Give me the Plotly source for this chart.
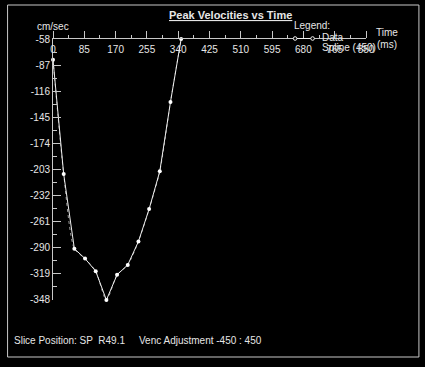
import plotly.graph_objects as go

# Data
time_ms = [0, 29, 58, 87, 116, 145, 174, 203, 232, 261, 290, 319, 348]
velocity = [-81, -208, -291, -302, -316, -348, -320, -309, -283, -247, -205, -128, -58]
x_ticks = [0, 85, 170, 255, 340, 425, 510, 595, 680, 765, 850]
y_ticks = [-58, -87, -116, -145, -174, -203, -232, -261, -290, -319, -348]

FONT = "Arial, 'Liberation Sans', sans-serif"
AX = "#c8c8c8"
TXT = "#e6e6e6"

W, H = 425, 367
L, R, T, B = 52.5, 59, 39, 67
pw, ph = W - L - R, H - T - B

def px(x):
    return (x - L) / pw

def py(y):
    return (H - B - y) / ph

fig = go.Figure()
fig.add_trace(go.Scatter(x=time_ms, y=velocity, mode="lines", name="Spline (450)",
                         line=dict(shape="spline", smoothing=0.7, color="#9a9a9a", width=1, dash="dot"),
                         cliponaxis=False, hoverinfo="skip"))
fig.add_trace(go.Scatter(x=time_ms, y=velocity, mode="lines+markers", name="Data",
                         line=dict(color="#f0f0f0", width=1),
                         marker=dict(size=4, color="#ffffff"),
                         cliponaxis=False))

fig.update_layout(
    width=W, height=H, autosize=False,
    margin=dict(l=L, r=R, t=T, b=B, pad=0),
    paper_bgcolor="#000000", plot_bgcolor="#000000",
    showlegend=False,
    font=dict(family=FONT, size=10, color=TXT),
    xaxis=dict(range=[0, 850], side="top", tickvals=x_ticks, ticktext=[str(v) for v in x_ticks],
               showline=True, linecolor=AX, linewidth=1, ticks="outside", ticklen=7,
               tickcolor=AX, tickwidth=1, ticklabelstandoff=-26, showgrid=False,
               zeroline=False, tickfont=dict(size=10, color=TXT),
               minor=dict(ticks="outside", ticklen=3, tickcolor=AX, dtick=42.5, tick0=0, showgrid=False)),
    yaxis=dict(range=[-348.01, -57.99], tickvals=y_ticks, ticktext=[str(v) for v in y_ticks],
               showline=True, linecolor=AX, linewidth=1, ticks="inside", ticklen=8,
               tickcolor=AX, tickwidth=1, showgrid=False, zeroline=False,
               tickfont=dict(size=10, color=TXT),
               minor=dict(ticks="inside", ticklen=4, tickcolor=AX, dtick=14.5, tick0=-58, showgrid=False)),
)

# Frame
fig.add_shape(type="rect", xref="paper", yref="paper",
              x0=px(7), x1=px(419), y0=py(357), y1=py(5),
              line=dict(color="#c8c8c8", width=1), fillcolor="rgba(0,0,0,0)", layer="below")

def ann(text, x, y, xanchor="left", size=10, color=TXT):
    fig.add_annotation(text=text, xref="paper", yref="paper", x=px(x), y=py(y),
                       xanchor=xanchor, yanchor="middle", showarrow=False,
                       font=dict(family=FONT, size=size, color=color))

ann("<b><u>Peak Velocities vs Time</u></b>", 230.5, 15, xanchor="center", size=11)
ann("cm/sec", 52, 26, xanchor="center")
ann("Time", 374, 32)
ann("(ms)", 375, 44)
ann("Legend:", 292, 25)
ann("Data", 319.5, 37.5)
ann("Spline (450)", 319.5, 48)
ann("Slice Position: SP  R49.1", 11, 340)
ann("Venc Adjustment -450 : 450", 136.5, 340)

# Legend sample (line with open circles)
fig.add_shape(type="line", xref="paper", yref="paper", x0=px(295), x1=px(312.5), y0=py(38.5), y1=py(38.5),
              line=dict(color="#f0f0f0", width=1))
for cx in (295, 312.5):
    fig.add_shape(type="circle", xref="paper", yref="paper",
                  x0=px(cx - 1.8), x1=px(cx + 1.8), y0=py(38.5 + 1.8), y1=py(38.5 - 1.8),
                  line=dict(color="#f0f0f0", width=1), fillcolor="#000000")

fig.write_html("out.html", config={"displayModeBar": False},
               post_script="document.body.style.margin='0';document.body.style.overflow='hidden';")
